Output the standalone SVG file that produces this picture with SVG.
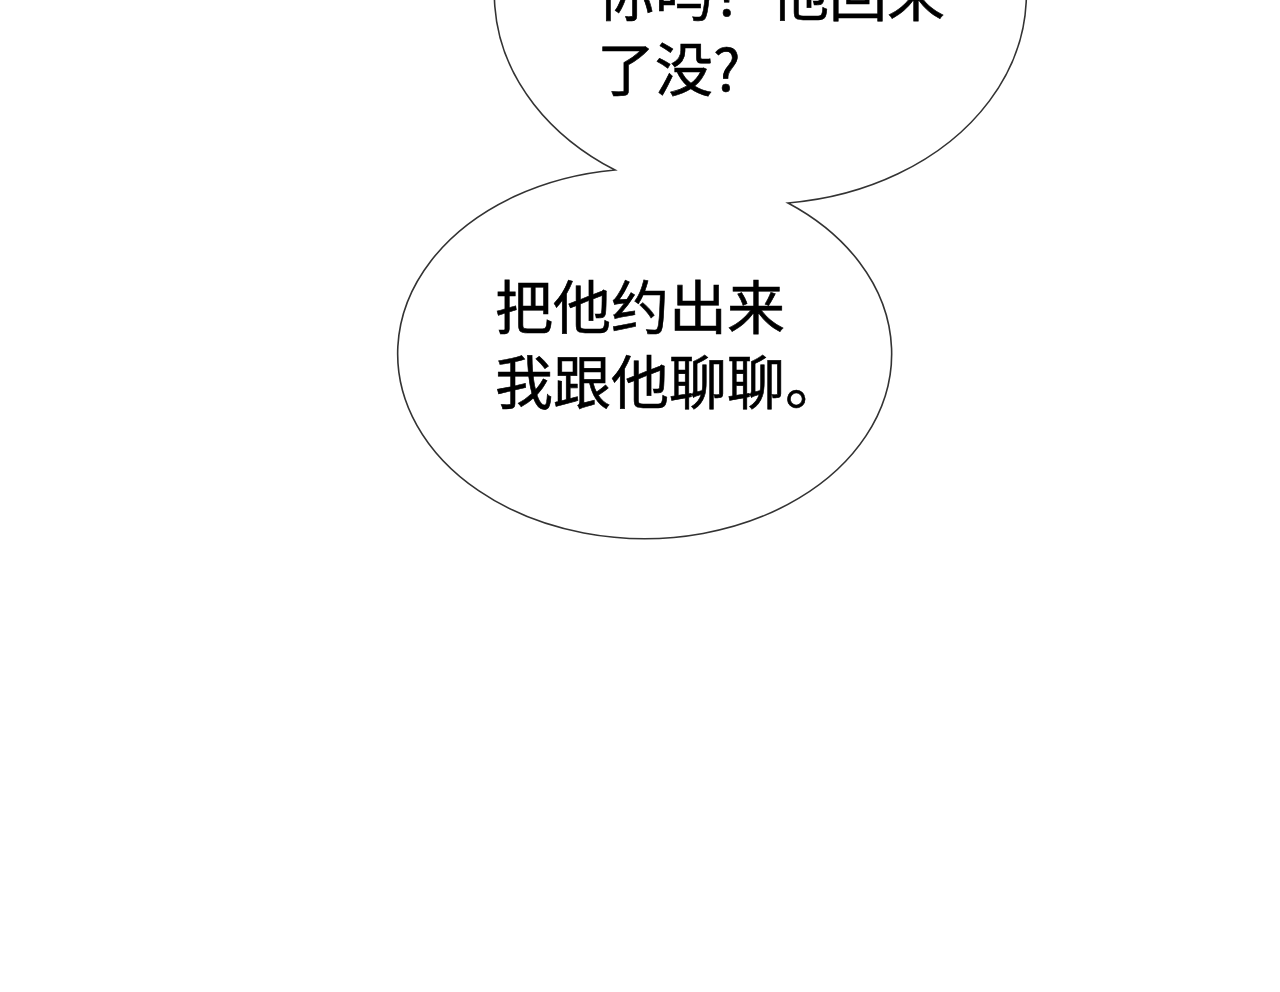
<svg xmlns="http://www.w3.org/2000/svg" width="1280" height="992" viewBox="0 0 1280 992">
<style>
.bubble{fill:#ffffff;stroke:#333333;stroke-width:1.6}
.t{font-family:"Noto Sans CJK SC","Noto Sans CJK JP",sans-serif;font-size:58px;fill:#000000;stroke:#000000;stroke-width:0.6}
</style>
<rect x="0" y="0" width="1280" height="992" fill="#ffffff"/>
<g id="bubbles">
<path class="bubble" d="M615,170 A247,185 0 1,0 788,203 A266,210 0 1,0 615,170 Z"/>
</g>
<g id="top-text">
<text class="t" x="597" y="16">你吗？他回来</text>
<text class="t" x="597" y="91">了没?</text>
</g>
<g id="bottom-text">
<text class="t" x="495" y="329">把他约出来</text>
<text class="t" x="495" y="404">我跟他聊聊。</text>
</g>
</svg>
